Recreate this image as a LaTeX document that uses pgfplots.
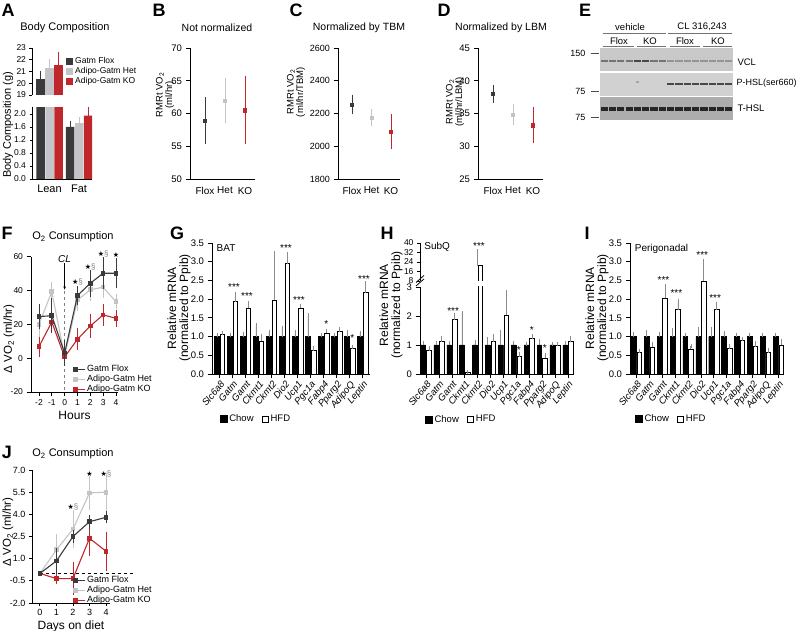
\documentclass[border=0pt]{standalone}
\usepackage{pgfplots}
\pgfplotsset{compat=1.18}
\usepackage{pgfplotstable}
\usepackage{fontspec}
\setmainfont{Liberation Sans}
\newfontfamily\symfont{DejaVu Sans}
\usetikzlibrary{arrows.meta}
\definecolor{flox}{HTML}{3A3A3C}
\definecolor{het}{HTML}{C4C4C8}
\definecolor{ko}{HTML}{C0272D}
\definecolor{errg}{HTML}{8C8C8C}
\newcommand{\fs}[1]{\fontsize{#1}{#1}\selectfont}

\pgfplotstableread{
x c ce h he
1 1 0.05 1.05 0.05
2 1 0.05 1.93 0.20
3 1 0.08 1.75 0.15
4 1 0.30 0.87 0.15
5 1 0.13 1.97 1.25
6 1 0.23 2.95 0.25
7 1 0.12 1.75 0.08
8 1 0.57 0.62 0.08
9 1 0.03 1.10 0.05
10 1 0.05 1.13 0.07
11 1 0.12 0.68 0.05
12 1 0.10 2.17 0.25
}\tabG
\pgfplotstableread{
x c ce h he
1 1 0.08 0.80 0.10
2 1 0.08 1.12 0.13
3 1 0.08 1.87 0.18
4 1 1.10 0.05 0.02
5 1 0.12 21 12
6 1 0.22 1.12 0.18
7 1 0.45 2.03 0.80
8 1 0.08 0.60 0.10
9 1 0.05 1.22 0.10
10 1 0.15 0.55 0.10
11 1 0.03 1.00 0.05
12 1 0.07 1.12 0.12
}\tabH
\pgfplotstableread{
x c ce h he
1 1 0.08 0.57 0.04
2 1 0.12 0.72 0.08
3 1 0.08 2.02 0.33
4 1 0.17 1.72 0.22
5 1 0.05 0.67 0.08
6 1 0.20 2.48 0.53
7 1 0.20 1.72 0.15
8 1 0.10 0.68 0.08
9 1 0.03 0.90 0.04
10 1 0.05 0.73 0.10
11 1 0.05 0.57 0.06
12 1 0.05 0.77 0.10
}\tabI

\pgfplotsset{
  prism/.style={scale only axis, anchor=south west, axis lines=left,
    axis line style={-, line width=0.9pt}, tick style={black, line width=0.9pt},
    tick align=outside, major tick length=4.5pt, clip mode=individual,
    /pgf/number format/assume math mode=true, /pgf/number format/1000 sep={},
    tick label style={font=\fs{9.5}}},
  onedec/.style={yticklabel style={/pgf/number format/.cd, fixed, fixed zerofill, precision=1, /tikz/.cd}},
  ebu/.style={/pgfplots/error bars/y dir=plus, /pgfplots/error bars/y explicit,
    /pgfplots/error bars/error bar style={#1, line width=0.7pt},
    /pgfplots/error bars/error mark options={#1, mark size=2pt, line width=0.7pt}},
  ebb/.style={/pgfplots/error bars/y dir=both, /pgfplots/error bars/y explicit,
    /pgfplots/error bars/error bar style={#1, line width=0.9pt},
    /pgfplots/error bars/error mark options={#1, mark size=2.5pt, line width=0.9pt}},
  genes/.style={ybar=1pt, bar width=4.6pt, xtick={1,...,12},
    xticklabels={Slc6a8,Gatm,Gamt,Ckmt1,Ckmt2,Dio2,Ucp1,Pgc1a,Fabp4,Pparg2,AdipoQ,Leptin},
    x tick label style={font=\fs{9.5}\itshape, rotate=50, anchor=north east, inner sep=1pt},
    major x tick style={line width=0.7pt}, 
    legend columns=2, legend style={draw=none, fill=none, font=\fs{9.5}, anchor=north west,
      /tikz/every even column/.append style={column sep=6pt}}},
  chow/.style={fill=black, draw=black, line width=0.4pt, ebu=errg,
    legend image code/.code={\fill[black] (0pt,-3.5pt) rectangle (7pt,3.5pt);}},
  hfd/.style={fill=white, draw=black, line width=0.6pt, ebu=errg,
    legend image code/.code={\draw[black, fill=white, line width=0.7pt] (0.35pt,-3.15pt) rectangle (6.65pt,3.15pt);}},
  linel/.style={legend cell align=left, legend style={draw=none, fill=none, font=\fs{9},
      anchor=north west, inner sep=0pt, row sep=-2pt},
    legend image code/.code={\draw[##1, mark=none] (0pt,0pt) -- (12pt,0pt); \draw[##1] plot coordinates {(3pt,0pt)};}},
  lin/.style={#1, line width=1.1pt, mark=square*, mark size=1.8pt, ebb=#1, forget plot},
  pt/.style={#1, only marks, mark=square*, mark size=1.6pt, ebb=#1},
  band/.style={only marks, mark=-, mark size=3.6pt, mark options={line width=#1}},
  sq/.style={legend image code/.code={\fill[#1] (0pt,-3.5pt) rectangle (7pt,3.5pt);}},
}

\begin{document}
\begin{tikzpicture}
\path[use as bounding box] (0pt,0pt) rectangle (800pt,631pt);

\begin{scope}[x=1pt,y=1pt]
% panel letters
\foreach \l/\x/\y in {A/8/621, B/159/621, C/296/621, D/444/621, E/585/621, F/7/398, G/177/398, H/387/398, I/587/398, J/7/179}
  \node[font=\fs{18}\bfseries] at (\x,\y) {\l};
% titles and y labels
\node[font=\fs{11}] at (65,603) {Body Composition};
\node[rotate=90, font=\fs{11}] at (8,506) {Body Composition (g)};
\node[font=\fs{10.5}] at (217,603) {Not normalized};
\node[rotate=90, align=center, font=\fs{9.5}] at (165,536) {RMRt VO\textsubscript{2}\\(ml/hr)};
\node[font=\fs{10.5}] at (359,603) {Normalized by TBM};
\node[rotate=90, align=center, font=\fs{9.5}] at (296,539) {RMRt VO\textsubscript{2}\\(ml/hr/TBM)};
\node[font=\fs{10.5}] at (501,603) {Normalized by LBM};
\node[rotate=90, align=center, font=\fs{9.5}] at (455,529) {RMRt VO\textsubscript{2}\\(ml/hr/LBM)};
% E labels
\node[font=\fs{9.5}] at (630,604) {vehicle};
\node[font=\fs{9.5}] at (702,604) {CL 316,243};
\draw[black!55, line width=0.6pt] (603,598) -- (666,598) (668,598) -- (732,598);
\node[font=\fs{9.5}] at (619,590) {Flox};
\node[font=\fs{9.5}] at (650,590) {KO};
\node[font=\fs{9.5}] at (685,590) {Flox};
\node[font=\fs{9.5}] at (718,590) {KO};
\draw[black!55, line width=0.6pt] (603,585) -- (634,585) (637,585) -- (666,585) (670,585) -- (700,585) (703,585) -- (732,585);
\node[font=\fs{9}, anchor=east] at (589,578) {150};
\node[font=\fs{9}, anchor=east] at (589,540) {75};
\node[font=\fs{9}, anchor=east] at (589,514) {75};
\draw[black!70, line width=0.6pt] (591,578) -- (599,578) (591,540) -- (599,540) (591,514) -- (599,514);
\node[font=\fs{9.5}, anchor=west] at (734,569) {VCL};
\node[font=\fs{9}, anchor=west] at (733,548) {P-HSL(ser660)};
\node[font=\fs{9.5}, anchor=west] at (734,523) {T-HSL};
% F, J titles and labels
\node[font=\fs{11}] at (73,394) {O\textsubscript{2} Consumption};
\node[rotate=90, font=\fs{11.5}] at (9,292) {Δ VO\textsubscript{2} (ml/hr)};
\node[font=\fs{11}] at (73,177) {O\textsubscript{2} Consumption};
\node[rotate=90, font=\fs{11.5}] at (8,99) {Δ VO\textsubscript{2} (ml/hr)};
% G H I y labels
\node[rotate=90, align=center, font=\fs{12}] at (179,323) {Relative mRNA\\(normalized to Ppib)};
\node[rotate=90, align=center, font=\fs{12}] at (391,326) {Relative mRNA\\(normalized to Ppib)};
\node[rotate=90, align=center, font=\fs{12}] at (597,323) {Relative mRNA\\(normalized to Ppib)};
% H axis break
\draw[line width=0.8pt] (416,345) -- (424,352) (416,348.5) -- (424,355.5);
\end{scope}

% ---------- A ----------
\begin{axis}[prism, at={(32pt,536pt)}, width=60pt, height=47pt,
  xmin=0.407, xmax=2.44, ymin=19, ymax=23, ytick={19,20,21,22,23},
  axis x line=none, ybar=0.5pt, bar width=8.5pt, tick label style={font=\fs{8.5}}, major tick length=2.5pt,
  legend cell align=left,
  legend style={at={(0.567,0.85)}, anchor=north west, draw=none, fill=none, font=\fs{8.5}, inner sep=0pt, row sep=-1.5pt}]
\addplot[fill=flox, draw=none, ebu=flox, sq=flox] coordinates {(1,20.37) +- (0,0.5)};
\addplot[fill=het, draw=none, ebu=het, sq=het] coordinates {(1,21.27) +- (0,0.6)};
\addplot[fill=ko, draw=none, ebu=ko, sq=ko] coordinates {(1,21.55) +- (0,0.9)};
\legend{Gatm Flox, Adipo-Gatm Het, Adipo-Gatm KO}
\end{axis}
\begin{axis}[prism, onedec, at={(32pt,452pt)}, width=60pt, height=71.5pt,
  xmin=0.407, xmax=2.44, ymin=0, ymax=2.2, ytick={0,0.4,0.8,1.2,1.6,2.0},
  tick label style={font=\fs{8.5}}, major tick length=2.5pt,
  xtick={1,2}, xticklabels={Lean,Fat}, xtick style={draw=none}, x tick label style={font=\fs{11}},
  ybar=0.5pt, bar width=8.5pt]
\addplot[fill=flox, draw=none, ebu=flox] coordinates {(1,20.37) (2,1.6) +- (0,0.13)};
\addplot[fill=het, draw=none, ebu=het] coordinates {(1,21.27) (2,1.72) +- (0,0.13)};
\addplot[fill=ko, draw=none, ebu=ko] coordinates {(1,21.55) (2,1.95) +- (0,0.2)};
\end{axis}

% ---------- B ----------
\begin{axis}[prism, at={(190pt,452pt)}, width=65pt, height=131pt,
  xmin=0.25, xmax=3.5, ymin=50, ymax=70, ytick={50,55,60,65,70},
  xtick={1,2,3}, xticklabels={Flox,Het,KO}, xtick style={draw=none}, x tick label style={font=\fs{10}}]
\addplot[pt=flox] coordinates {(1,58.9) +- (0,3.2)};
\addplot[pt=het] coordinates {(2,62.0) +- (0,3.0)};
\addplot[pt=ko] coordinates {(3,60.5) +- (0,4.8)};
\end{axis}

% ---------- C ----------
\begin{axis}[prism, at={(338pt,452pt)}, width=62pt, height=131pt,
  xmin=0.28, xmax=3.46, ymin=1800, ymax=2600, ytick={1800,2000,2200,2400,2600},
  tick label style={font=\fs{9}},
  xtick={1,2,3}, xticklabels={Flox,Het,KO}, xtick style={draw=none}, x tick label style={font=\fs{10}}]
\addplot[pt=flox] coordinates {(1,2255) +- (0,45)};
\addplot[pt=het] coordinates {(2,2173) +- (0,37)};
\addplot[pt=ko] coordinates {(3,2090) +- (0,93)};
\end{axis}

% ---------- D ----------
\begin{axis}[prism, at={(478pt,452pt)}, width=65pt, height=131pt,
  xmin=0.25, xmax=3.5, ymin=25, ymax=45, ytick={25,30,35,40,45},
  xtick={1,2,3}, xticklabels={Flox,Het,KO}, xtick style={draw=none}, x tick label style={font=\fs{10}}]
\addplot[pt=flox] coordinates {(1,38.0) +- (0,0.95)};
\addplot[pt=het] coordinates {(2,34.8) +- (0,1.25)};
\addplot[pt=ko] coordinates {(3,33.2) +- (0,2.35)};
\end{axis}

% ---------- E (blot) ----------
\begin{axis}[scale only axis, anchor=south west, at={(600pt,511pt)}, width=133pt, height=72pt,
  xmin=0.5, xmax=16.5, ymin=0, ymax=72, hide axis]
\addplot[fill=black!21, draw=none] coordinates {(0.5,48.8) (16.5,48.8) (16.5,72) (0.5,72)} -- cycle;
\addplot[fill=black!18, draw=none] coordinates {(0.5,24.2) (16.5,24.2) (16.5,47.2) (0.5,47.2)} -- cycle;
\addplot[fill=black!32, draw=none] coordinates {(0.5,0) (16.5,0) (16.5,22.6) (0.5,22.6)} -- cycle;
\addplot[band=1.8pt, black!55] coordinates {(1,59) (2,59) (3,59) (4,59) (7,59) (8,59)};
\addplot[band=2.2pt, black!72] coordinates {(5,59) (6,59)};
\addplot[band=1.8pt, black!42] coordinates {(9,59) (10,59) (11,59) (12,59) (13,59) (14,59) (15,59) (16,59)};
\addplot[band=2.6pt, black!72] coordinates {(9,36) (10,36) (11,36) (12,36) (13,36) (14,36) (15,36) (16,36)};
\addplot[band=1.5pt, black!35, mark size=1.5pt] coordinates {(5,38)};
\addplot[band=4.2pt, black!85] coordinates {(1,11) (2,11) (3,11) (4,11) (5,11) (6,11) (7,11) (8,11) (9,11) (10,11) (11,11) (12,11) (13,11) (14,11) (15,11) (16,11)};
\end{axis}

% ---------- F ----------
\begin{axis}[prism, linel, at={(31pt,239pt)}, width=87pt, height=135.3pt,
  xmin=-2.62, xmax=4.16, ymin=-20, ymax=60, xtick={-2,-1,0,1,2,3,4}, ytick={-20,0,20,40,60},
  tick label style={font=\fs{8.5}},
  xlabel={Hours}, xlabel style={font=\fs{12}, yshift=2pt},
  legend style={at={(0.47,0.214)}}]
\draw[dashed, gray, line width=0.6pt] (axis cs:0,40) -- (axis cs:0,-20);
\addplot[lin=het] coordinates {(-2,20) +- (0,6) (-1,39.3) +- (0,4) (0,1) +- (0,3) (1,34.4) +- (0,5) (2,40.4) +- (0,5) (3,42) +- (0,5) (4,33.4) +- (0,3)};
\addplot[lin=ko] coordinates {(-2,6.8) +- (0,4.5) (-1,21.4) +- (0,4) (0,0.7) +- (0,3) (1,11.2) +- (0,5) (2,19) +- (0,5.5) (3,25.6) +- (0,5) (4,23.6) +- (0,3.5)};
\addplot[lin=flox] coordinates {(-2,24.6) +- (0,6) (-1,25.1) +- (0,9) (0,3) +- (0,6) (1,37) +- (0,4) (2,44.3) +- (0,6.5) (3,50.2) +- (0,8) (4,50.2) +- (0,7.5)};
\addlegendimage{flox, line width=1.1pt, mark=square*, mark size=1.8pt}
\addlegendentry{Gatm Flox}
\addlegendimage{het, line width=1.1pt, mark=square*, mark size=1.8pt}
\addlegendentry{Adipo-Gatm Het}
\addlegendimage{ko, line width=1.1pt, mark=square*, mark size=1.8pt}
\addlegendentry{Adipo-Gatm KO}
\draw[-{Stealth[length=3.5pt]}, line width=0.6pt] (axis cs:0,56) -- (axis cs:0,40.5);
\node[font=\fs{10}\itshape] at (axis cs:0,58.6) {CL};
\node[font=\fs{8}] at (axis cs:1,45.3) {{\symfont\fs{7}★}\textcolor{gray}{§}};
\node[font=\fs{8}] at (axis cs:2,54.1) {{\symfont\fs{7}★}\textcolor{gray}{§}};
\node[font=\fs{8}] at (axis cs:3,61.7) {{\symfont\fs{7}★}\textcolor{gray}{§}};
\node[font=\fs{8}] at (axis cs:4,61.0) {{\symfont\fs{7}★}};
\end{axis}

% ---------- G ----------
\begin{axis}[prism, onedec, genes, at={(212pt,257pt)}, width=158pt, height=131pt,
  xmin=0.41, xmax=12.56, ymin=0, ymax=3.5, ytick={0,0.5,1.0,1.5,2.0,2.5,3.0,3.5},
  legend style={at={(0.03,-0.28)}}]
\addplot[chow] table[x=x, y=c, y error=ce] {\tabG};
\addplot[hfd] table[x=x, y=h, y error=he] {\tabG};
\legend{Chow,HFD}
\node[font=\fs{10}, anchor=north west] at (axis cs:0.5,3.55) {BAT};
\node[font=\fs{10}] at (axis cs:2.1,2.33) {***};
\node[font=\fs{10}] at (axis cs:3.1,2.08) {***};
\node[font=\fs{10}] at (axis cs:6.1,3.37) {***};
\node[font=\fs{10}] at (axis cs:7.1,1.98) {***};
\node[font=\fs{10}] at (axis cs:9.2,1.34) {*};
\node[font=\fs{10}] at (axis cs:11.2,0.96) {*};
\node[font=\fs{10}] at (axis cs:12.1,2.54) {***};
\end{axis}

% ---------- H ----------
\begin{axis}[prism, genes, at={(420pt,257pt)}, width=154pt, height=87pt,
  xmin=0.53, xmax=12.47, ymin=0, ymax=3, ytick={0,1,2,3},
  legend style={at={(0.013,-0.425)}}]
\addplot[chow] table[x=x, y=c, y error=ce] {\tabH};
\addplot[hfd] table[x=x, y=h, y error=he] {\tabH};
\legend{Chow,HFD}
\node[font=\fs{10}] at (axis cs:3.1,2.17) {***};
\node[font=\fs{10}] at (axis cs:8.2,0.83) {*};
\node[font=\fs{10}] at (axis cs:9.2,1.52) {*};
\node[font=\fs{10}] at (axis cs:10.2,0.9) {*};
\end{axis}
\begin{axis}[prism, at={(420pt,350pt)}, width=154pt, height=38pt,
  xmin=0.53, xmax=12.47, ymin=8, ymax=40, ytick={8,16,24,32,40},
  axis x line=none, tick label style={font=\fs{8.5}}, major tick length=3pt]
\addplot[ybar, bar width=4.6pt, bar shift=2.8pt, hfd] coordinates {(5,21) +- (0,12)};
\node[font=\fs{10}] at (axis cs:5.1,37.5) {***};
\node[font=\fs{10}, anchor=west] at (axis cs:0.6,37) {SubQ};
\end{axis}

% ---------- I ----------
\begin{axis}[prism, onedec, genes, at={(630pt,257pt)}, width=154pt, height=131pt,
  xmin=0.5, xmax=12.44, ymin=0, ymax=3.5, ytick={0,0.5,1.0,1.5,2.0,2.5,3.0,3.5},
  legend style={at={(0.013,-0.28)}}]
\addplot[chow] table[x=x, y=c, y error=ce] {\tabI};
\addplot[hfd] table[x=x, y=h, y error=he] {\tabI};
\legend{Chow,HFD}
\node[font=\fs{10}, anchor=north west] at (axis cs:0.6,3.55) {Perigonadal};
\node[font=\fs{10}] at (axis cs:3.1,2.51) {***};
\node[font=\fs{10}] at (axis cs:4.1,2.16) {***};
\node[font=\fs{10}] at (axis cs:6.1,3.18) {***};
\node[font=\fs{10}] at (axis cs:7.1,2.03) {***};
\end{axis}

% ---------- J ----------
\begin{axis}[prism, linel, onedec, at={(32pt,28pt)}, width=78pt, height=133pt,
  xmin=-0.48, xmax=4.24, ymin=-2, ymax=7, xtick={0,1,2,3,4}, ytick={-2,-0.5,1,2.5,4,5.5,7},
  tick label style={font=\fs{9}}, major tick length=3pt,
  xlabel={Days on diet}, xlabel style={font=\fs{12}, yshift=2pt},
  legend style={at={(0.51,0.218)}}]
\draw[dashed, line width=0.6pt] (axis cs:0,0) -- (axis cs:5.7,0);
\addplot[lin=het] coordinates {(0,0) (1,1.6) +- (0,0.9) (2,3.0) +- (0,1.1) (3,5.45) +- (0,1.0) (4,5.5) +- (0,1.15)};
\addplot[lin=ko] coordinates {(0,0) (1,-0.35) +- (0,0.2) (2,-0.35) +- (0,0.95) (3,2.38) +- (0,1.0) (4,1.5) +- (0,1.15)};
\addplot[lin=flox] coordinates {(0,0) (1,0.85) +- (0,0.7) (2,2.5) +- (0,0.3) (3,3.5) +- (0,0.3) (4,3.8) +- (0,0.25)};
\addlegendimage{flox, line width=1.1pt, mark=square*, mark size=1.8pt}
\addlegendentry{Gatm Flox}
\addlegendimage{het, line width=1.1pt, mark=square*, mark size=1.8pt}
\addlegendentry{Adipo-Gatm Het}
\addlegendimage{ko, line width=1.1pt, mark=square*, mark size=1.8pt}
\addlegendentry{Adipo-Gatm KO}
\node[font=\fs{8}] at (axis cs:2,4.5) {{\symfont\fs{7}★}\textcolor{gray}{§}};
\node[font=\fs{8}] at (axis cs:3,6.73) {{\symfont\fs{7}★}};
\node[font=\fs{8}] at (axis cs:4,6.73) {{\symfont\fs{7}★}\textcolor{gray}{§}};
\end{axis}
\end{tikzpicture}
\end{document}
